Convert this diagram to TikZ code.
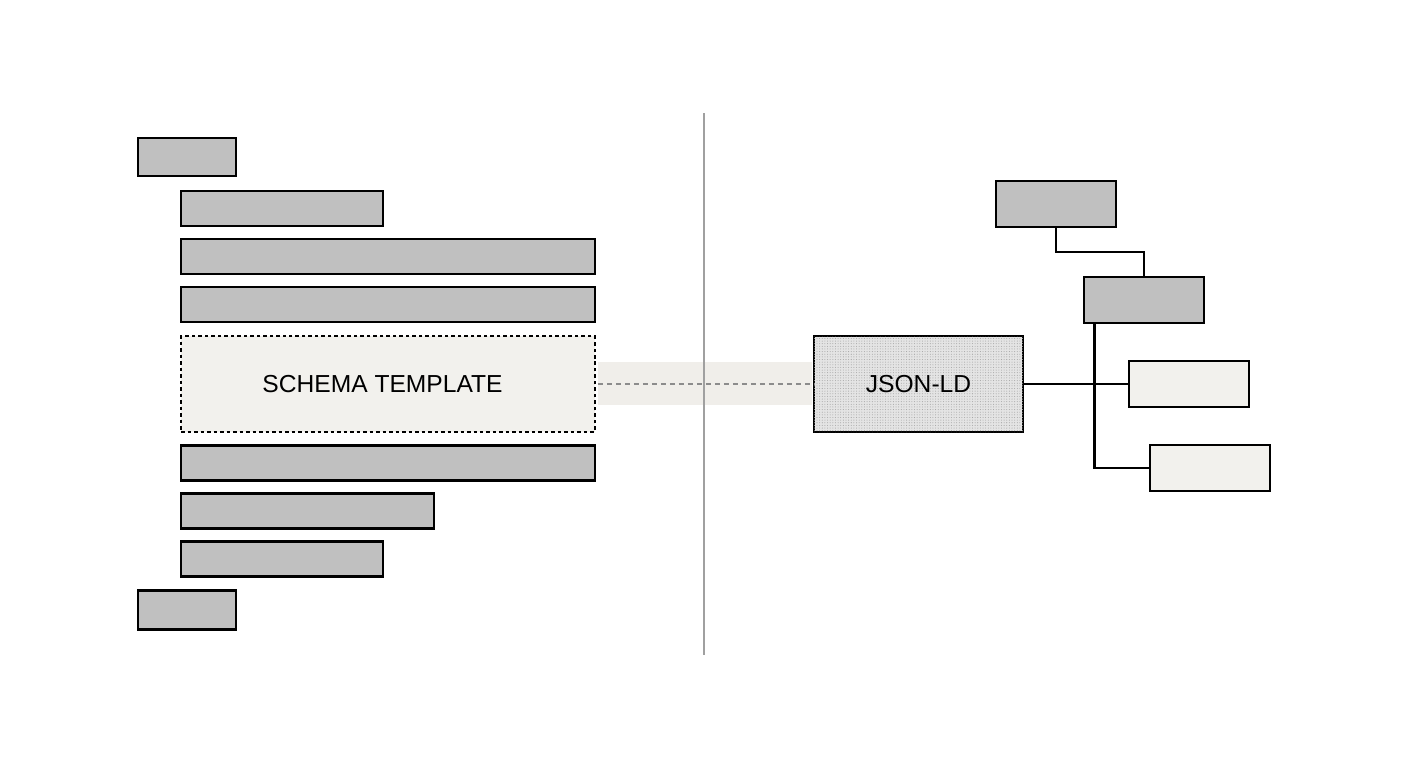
\documentclass[tikz,border=0pt]{standalone}
\usepackage{fontspec}
\setmainfont{Liberation Sans}
\usepackage{xcolor}
\usetikzlibrary{patterns.meta}
\definecolor{bargray}{RGB}{192,192,192}
\definecolor{cream}{RGB}{242,241,237}
\definecolor{bandcream}{RGB}{240,238,234}
\definecolor{dividergray}{RGB}{160,160,160}
\definecolor{dashgray}{RGB}{140,140,140}
\definecolor{jsongray}{RGB}{228,228,228}

\begin{document}
\begin{tikzpicture}[
  x=0.02cm, y=-0.02cm,
  lw/.style={line width=0.046cm},
  bar/.style={draw, lw, fill=bargray, inner sep=0pt, outer sep=0pt},
  leaf/.style={draw, lw, fill=cream, inner sep=0pt, outer sep=0pt},
  label/.style={font=\fontsize{14}{16}\selectfont, text=black},
  wire/.style={draw, lw, line cap=butt},
]
\useasboundingbox (0, 0) rectangle (1408, 768);

% Band and divider
\node[fill=bandcream, inner sep=0pt, minimum width=4.28cm, minimum height=0.86cm] (band) at (705, 383.5) {};
\node[fill=dividergray, inner sep=0pt, minimum width=0.04cm, minimum height=10.84cm] (divider) at (703.5, 384) {};

% Left stack
\node[bar, minimum width=1.96cm, minimum height=0.76cm] (head) at (187, 157) {};
\node[bar, minimum width=4.04cm, minimum height=0.70cm] (l1) at (282, 208.5) {};
\node[bar, minimum width=8.28cm, minimum height=0.70cm] (l2) at (388, 256.5) {};
\node[bar, minimum width=8.28cm, minimum height=0.70cm] (l3) at (388, 304.5) {};
\node[bar, minimum width=8.28cm, minimum height=0.70cm] (l4) at (388, 463) {};
\node[bar, minimum width=5.06cm, minimum height=0.70cm] (l5) at (307.5, 511) {};
\node[bar, minimum width=4.04cm, minimum height=0.70cm] (l6) at (282, 559) {};
\node[bar, minimum width=1.96cm, minimum height=0.78cm] (foot) at (187, 610) {};

% Template
\node[leaf, dashed, dash pattern=on 0.07cm off 0.06cm, minimum width=8.28cm, minimum height=1.92cm, label] (template) at (388, 384) {SCHEMA TEMPLATE\hspace*{0.22cm}};

% JSON-LD
\node[draw, lw, fill=jsongray, postaction={pattern={Dots[distance=1.5pt, radius=0.3pt]}, pattern color=gray!70},
  inner sep=0pt, outer sep=0pt, minimum width=4.18cm, minimum height=1.92cm, label] (json) at (918.5, 384) {JSON-LD};

% Right tree
\node[bar, minimum width=2.40cm, minimum height=0.93cm] (r1) at (1056, 204) {};
\node[bar, minimum width=2.40cm, minimum height=0.93cm] (r2) at (1144, 300) {};
\node[leaf, minimum width=2.40cm, minimum height=0.93cm] (r3) at (1189, 384) {};
\node[leaf, minimum width=2.40cm, minimum height=0.93cm] (r4) at (1210, 468) {};
\coordinate (bend) at (1100, 252);
\coordinate (trunk) at (1094.5, 323);

% Connectors
\draw[dashed, dash pattern=on 0.1cm off 0.08cm, dashgray, line width=0.03cm, shorten <=0.06cm] (template.east) -- (json.west);
\draw[wire] (r1.south) |- (bend) -| (r2.north);
\draw[wire] (json.east) -- (r3.west);
\draw[wire] (trunk) |- (r4.west);

\end{tikzpicture}
\end{document}
